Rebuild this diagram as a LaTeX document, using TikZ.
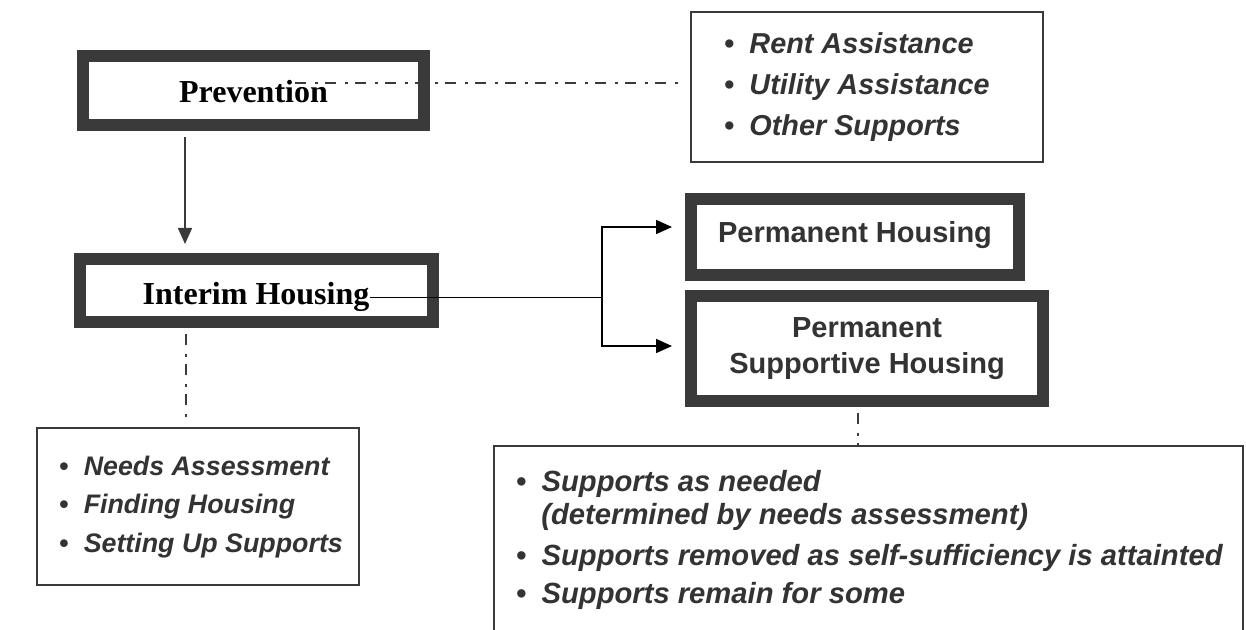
\documentclass[tikz,border=0pt]{standalone}
\usepackage{fontspec}
\setmainfont{Liberation Serif}
\newfontfamily\arialf{Liberation Sans}
\usetikzlibrary{arrows.meta,calc}
\definecolor{boxgray}{HTML}{3A3A3A}
\definecolor{txtgray}{HTML}{333333}
\newcommand\mybul{{\upshape\bfseries •}\hspace{7.5pt}}
\begin{document}
\begin{tikzpicture}[x=0.5pt,y=-0.5pt,
  thickbox/.style={draw=boxgray,line width=6pt,fill=white,inner sep=0pt},
  thinbox/.style={draw=boxgray,line width=0.8pt,fill=white,inner sep=0pt},
  serifhead/.style={font=\fontsize{16}{19}\selectfont\bfseries,inner sep=0pt,anchor=base},
  sanshead/.style={font=\arialf\fontsize{14.5}{18}\selectfont\bfseries,text=txtgray,inner sep=0pt,anchor=base},
  bulletline/.style={font=\arialf\fontsize{#1}{17}\selectfont\bfseries\itshape,text=txtgray,inner sep=0pt,anchor=base west},
  bulletline/.default=14,
  dashdot/.style={line width=0.75pt,draw=boxgray,dash pattern=on 5.5pt off 4.5pt on 1.5pt off 3.5pt},
  arrowline/.style={line width=0.8pt,-{Triangle[length=8pt,width=7pt]}},
  plainline/.style={line width=0.8pt}]
\useasboundingbox (0,0) rectangle (1246,630);

% boxes
\node[thickbox,minimum width=170.5pt,minimum height=34.5pt] (prev) at (253.5,90.5) {};
\node[thickbox,minimum width=176.5pt,minimum height=31.5pt] (interim) at (256.5,290.5) {};
\node[thickbox,minimum width=164pt,minimum height=38pt] (ph) at (855,237) {};
\node[thickbox,minimum width=176pt,minimum height=52.5pt] (psh) at (867,348.5) {};
\node[thinbox,minimum width=176pt,minimum height=75pt] (rtop) at (867,87) {};
\node[thinbox,minimum width=161pt,minimum height=78.5pt] (ll) at (198,506.5) {};
\node[thinbox,minimum width=374.5pt,minimum height=102pt] (lr) at (868.5,548) {};

% headings
\node[serifhead] (ptext) at (253.5,103) {Prevention};
\node[serifhead] (itext) at (256,305) {Interim Housing};
\node[sanshead] (phtext) at (855,243) {Permanent Housing};
\node[sanshead] (psh1) at (867,337) {Permanent};
\node[sanshead] (psh2) at (867,373) {Supportive Housing};

% bullet lists
\node[bulletline=14.4] (r1) at (724,54) {\mybul Rent Assistance};
\node[bulletline=14.4] (r2) at (724,95) {\mybul Utility Assistance};
\node[bulletline=14.4] (r3) at (724,136) {\mybul Other Supports};

\node[bulletline=13.4] (l1) at (59,475) {\mybul Needs Assessment};
\node[bulletline=13.4] (l2) at (59,513.5) {\mybul Finding Housing};
\node[bulletline=13.4] (l3) at (59,552) {\mybul Setting Up Supports};

\node[bulletline=14.6] (s1) at (516,491) {\mybul Supports as needed};
\node[bulletline=14.6] (s2) at (541,524) {(determined by needs assessment)};
\node[bulletline=14.6] (s3) at (516,565) {\mybul Supports removed as self-sufficiency is attainted};
\node[bulletline=14.6] (s4) at (516,603) {\mybul Supports remain for some};

% connectors
\coordinate (pd) at (295,83);
\draw[dashdot,shorten >=4pt] (pd) -- (pd -| rtop.west);

\coordinate (vx) at (185,0);
\draw[arrowline,draw=boxgray,shorten <=3pt,shorten >=4.5pt] (prev.south -| vx) -- (interim.north -| vx);

\coordinate (fork) at (602,299);
\draw[plainline] (itext.east) -- (itext.east -| fork);
\draw[arrowline,shorten >=6.5pt] (fork) |- ($(ph.west)+(0,-10)$);
\draw[arrowline,shorten >=6.5pt] (fork) |- ($(psh.west)+(0,-2.5)$);

\coordinate (vl) at (186,0);
\draw[dashdot,shorten <=3pt,shorten >=5pt] (interim.south -| vl) -- (ll.north -| vl);
\coordinate (vr) at (858,0);
\draw[dashdot,shorten <=3pt] (psh.south -| vr) -- (lr.north -| vr);
\end{tikzpicture}
\end{document}
